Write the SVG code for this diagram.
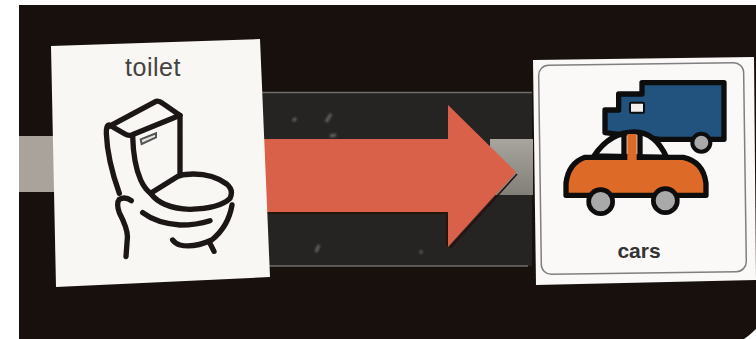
<svg xmlns="http://www.w3.org/2000/svg" width="756" height="339" viewBox="0 0 756 339">
<defs>
<style>
.l{fill:none;stroke:#1a1716;stroke-width:16;stroke-linecap:round;stroke-linejoin:round}
.k{stroke:#0c0c0e;stroke-width:16;stroke-linejoin:round}
.t{font-family:"Liberation Sans",Arial,sans-serif;text-anchor:middle}
</style>
<linearGradient id="s2" x1="0" y1="0" x2="0" y2="1"><stop offset="0" stop-color="#a8a49e"/><stop offset="1" stop-color="#827e78"/></linearGradient>
<filter id="soft" x="-5%" y="-5%" width="110%" height="110%"><feGaussianBlur stdDeviation=".6"/></filter>
<filter id="soft2" x="-5%" y="-5%" width="110%" height="110%"><feGaussianBlur stdDeviation="1.200"/></filter>
</defs>
<rect width="756" height="339" fill="#fff"/>
<path d="M19 5H756V329Q750 335 744 339H19Z" fill="#17100d"/>
<rect x="19" y="136" width="40" height="56" fill="#a9a39b"/>
<g id="panel">
<rect x="262" y="92" width="270" height="174" fill="#252423"/>
<path d="M262 92.500H532M268 266H528" stroke="#6e6e6a" stroke-width="1.500" fill="none"/>
<rect x="490" y="139" width="43" height="56" fill="url(#s2)"/>
<path d="M326 122l5-8M293 121l3-3M330 136l6-1M316 252l3-7M420 253l2-2" stroke="#66635e" stroke-width="3" fill="none" filter="url(#soft2)"/>
</g>
<g id="arrow" filter="url(#soft)">
<path d="M263 139H448V105L516 172L448 247V212H266Z" fill="#d9604a"/>
<path d="M266 213H447M447 213V246M450 248L517 174" fill="none" stroke="#2a0c08" stroke-width="1.500"/>
</g>
<g id="toilet">
<path d="M51 46L260 39L270 277L56 287Z" fill="#f9f7f4"/>
<text class="t" x="153" y="76" font-size="25" letter-spacing=".5" fill="#45423f">toilet</text>
<g transform="translate(30 30) scale(.33333)" filter="url(#soft)">
<path class="l" d="M232 292L378 214Q388 212 398 220L450 256L305 315Q295 318 285 312L238 285Q228 285 229 310Q232 390 268 490"/>
<path class="l" d="M450 256V435M308 318Q310 400 332 450Q345 478 362 490L450 435"/>
<path class="l" d="M362 490Q395 535 480 538Q570 535 600 505Q612 480 590 462Q550 432 490 432Q465 432 450 437"/>
<path class="l" d="M304 512Q285 498 268 508Q258 520 268 548Q295 600 292 625L288 680"/>
<path class="l" d="M338 548Q380 580 450 585Q500 585 540 572"/>
<path class="l" d="M606 525Q595 590 545 630Q490 655 450 645Q435 640 428 630M540 640L552 664"/>
<path d="M332 328L378 310V322L335 342Z" fill="#e8e6e2" stroke="#555" stroke-width="6"/>
</g>
</g>
<g id="cars">
<path d="M533 60L754 57L756 280L536 285Z" fill="#fbf9f7"/>
<rect x="540" y="64" width="205" height="209" rx="10" fill="none" stroke="#807e7e" stroke-width="1.500" transform="rotate(-.8 640 170)"/>
<text class="t" x="639" y="258" font-size="21" font-weight="700" fill="#333">cars</text>
<g transform="translate(520 50) scale(.33333)" filter="url(#soft)">
<path class="k" d="M366 98H612V268H575L510 268H420L255 248V180H296V132H366Z" fill="#23527f"/>
<rect x="330" y="158" width="42" height="30" rx="3" fill="#f2f0ee" stroke="#0c0c0e" stroke-width="6"/>
<circle cx="544" cy="278" r="27" fill="#a9a9a9" stroke="#0c0c0e" stroke-width="12"/>
<path d="M222 318Q270 246 344 246Q405 246 440 322Z" fill="#f8f6f4" stroke="#0c0c0e" stroke-width="16" stroke-linejoin="round"/>
<path class="k" d="M138 436V400Q145 340 195 322H490Q550 335 558 400V436Z" fill="#dd6a26"/>
<path d="M312 250V322M360 250V322" stroke="#0c0c0e" stroke-width="16" fill="none"/>
<path d="M322 252H350V340H322Z" fill="#dd6a26"/>
<circle cx="242" cy="455" r="36" fill="#a9a9a9" stroke="#0c0c0e" stroke-width="14"/>
<circle cx="436" cy="452" r="36" fill="#a9a9a9" stroke="#0c0c0e" stroke-width="14"/>
</g>
</g>
</svg>
